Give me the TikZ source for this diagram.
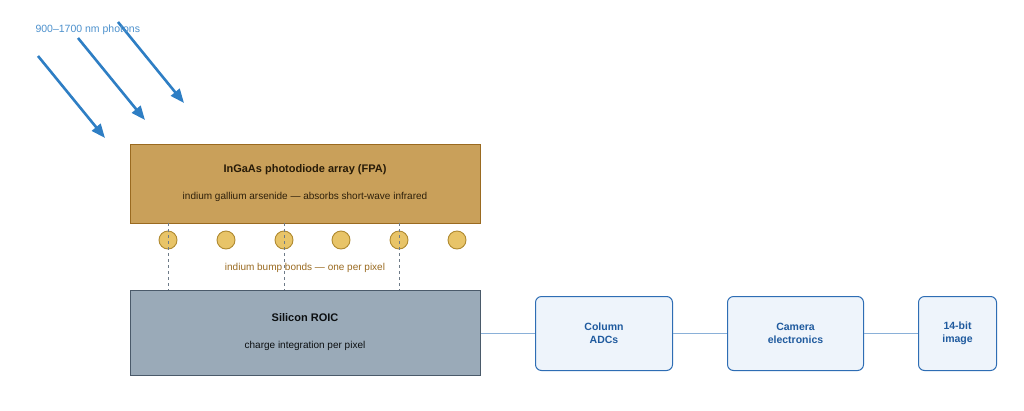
\documentclass[tikz,border=0pt]{standalone}
\usepackage{fontspec}
\setmainfont{Liberation Sans}
\usetikzlibrary{arrows.meta}
\definecolor{fpa}{HTML}{C9A05A}\definecolor{fpab}{HTML}{9A6A20}
\definecolor{bump}{HTML}{E8C468}\definecolor{bumpb}{HTML}{B08A30}
\definecolor{roic}{HTML}{9AAAB8}\definecolor{roicb}{HTML}{4A5A6A}
\definecolor{bx}{HTML}{EEF4FB}\definecolor{bxb}{HTML}{2E6DB4}
\definecolor{bxt}{HTML}{1F5A9E}\definecolor{ln}{HTML}{8AB0D8}
\definecolor{ph}{HTML}{2E7EC4}
\begin{document}
\begin{tikzpicture}[x=1pt,y=-1pt,
 blk/.style={draw=bxb,fill=bx,rounded corners=6pt,line width=1pt,font=\bfseries\fontsize{10.5}{13}\selectfont,text=bxt,align=center,anchor=north west,inner sep=0pt},
 bump/.style={circle,draw=bumpb,fill=bump,line width=0.9pt,minimum size=18pt,inner sep=0pt},
 dl/.style={dashed,draw=roicb!80,line width=0.9pt},
 phot/.style={draw=ph,line width=2.6pt,-{Triangle[length=14pt,width=11pt]}},
 conn/.style={draw=ln,line width=1.5pt}]
\fill[white!97!blue!30] (0,0) rectangle (1024,410);
\fill[white] (0,0) rectangle (1024,410);
\node[draw=fpab,fill=fpa,line width=1pt,minimum width=350pt,minimum height=79pt,anchor=north west,inner sep=0pt] (fpa) at (130,144) {};
\node[font=\bfseries\fontsize{11}{13}\selectfont,text=black!75!fpab] at (305,170) {InGaAs photodiode array (FPA)};
\node[font=\fontsize{10}{12}\selectfont,text=black!70!fpab] at (305,197) {indium gallium arsenide — absorbs short-wave infrared};
\node[draw=roicb,fill=roic,line width=1pt,minimum width=350pt,minimum height=85pt,anchor=north west,inner sep=0pt] (roic) at (130,290) {};
\node[font=\bfseries\fontsize{11}{13}\selectfont,text=black!85!roicb] at (305,318) {Silicon ROIC};
\node[font=\fontsize{10}{12}\selectfont,text=black!85!roicb] at (305,346) {charge integration per pixel};
\foreach \i/\x in {1/168,2/226,3/284,4/341,5/399,6/457}
  \node[bump] (b\i) at (\x,240) {};
\foreach \x in {168,284,399}
  \draw[dl] (\x,223) -- (\x,290);
\node[font=\fontsize{10}{12}\selectfont,text=fpab] at (305,268) {indium bump bonds — one per pixel};
\node[blk,minimum width=137pt,minimum height=74pt] (adc) at (535,296) {};
\node[font=\bfseries\fontsize{10.5}{13}\selectfont,text=bxt,align=center] at (adc.center) {Column\\ADCs};
\node[blk,minimum width=136pt,minimum height=74pt] (cam) at (727,296) {};
\node[font=\bfseries\fontsize{10.5}{13}\selectfont,text=bxt,align=center] at (cam.center) {Camera\\electronics};
\node[blk,minimum width=78pt,minimum height=74pt] (img) at (918,296) {};
\node[font=\bfseries\fontsize{10.5}{13}\selectfont,text=bxt,align=center] at (img.center) {14-bit\\image};
\draw[conn] (roic.east |- adc.west) -- (adc.west);
\draw[conn] (adc.east) -- (cam.west);
\draw[conn] (cam.east) -- (img.west);
\coordinate (p1s) at (38,56); \coordinate (p1e) at (105,138);
\coordinate (p2s) at (78,38); \coordinate (p2e) at (145,120);
\coordinate (p3s) at (118,22); \coordinate (p3e) at (184,103);
\draw[phot] (p1s) -- (p1e);
\draw[phot] (p2s) -- (p2e);
\draw[phot] (p3s) -- (p3e);
\node[font=\fontsize{10.5}{12}\selectfont,text=ph!85!white,anchor=west] at (32,30) {900–1700 nm photons};
\end{tikzpicture}
\end{document}
